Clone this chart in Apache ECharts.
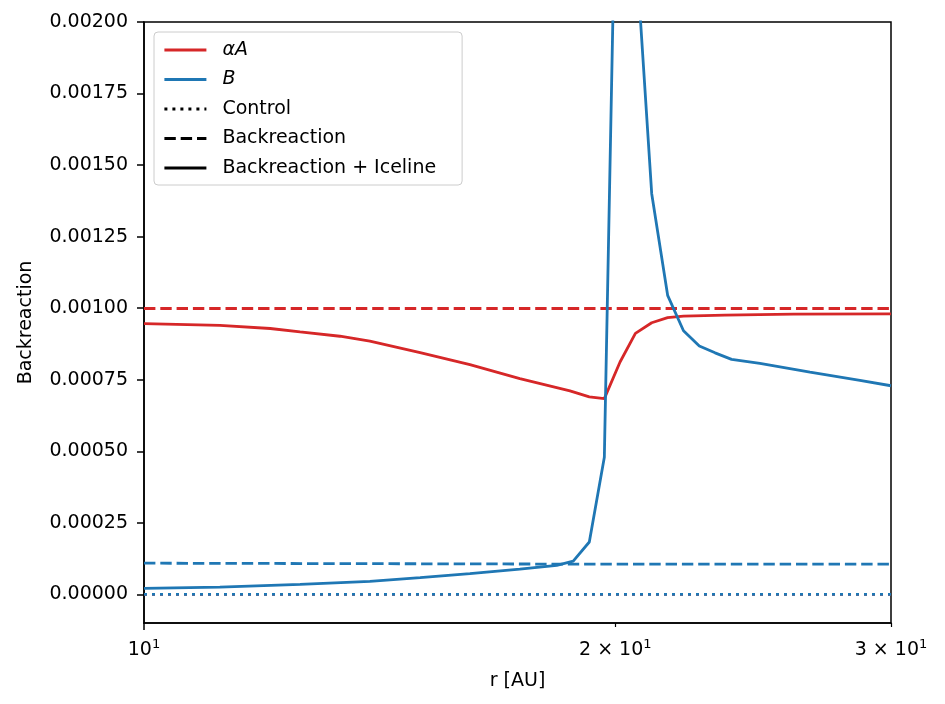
<!DOCTYPE html>
<html><head><meta charset="utf-8">
<script src="https://cdn.jsdelivr.net/npm/echarts@6/dist/echarts.min.js"></script>
<style>html,body{margin:0;padding:0;background:#fff}#c{width:945px;height:704px}</style>
</head><body><div id="c"></div>
<script>
// ---- data ----
const rControl = [10, 30];
const alphaAControl = [0, 0];
const bControl = [0, 0];

const rAlphaABack = [10, 30];
const alphaABack = [0.000999, 0.000999];
const rBBack = [10, 18, 30];
const bBack = [0.000109, 0.000106, 0.000106];

const rAlphaAIce = [10, 11.18, 12.04, 12.58, 13.34, 13.94, 15.01, 16.15, 17.38, 18.71, 19.25, 19.68, 20.14, 20.6, 21.1, 21.6, 22.11, 23.5, 26, 30];
const alphaAIce = [0.000946, 0.000940, 0.000929, 0.000917, 0.000902, 0.000885, 0.000845, 0.000803, 0.000754, 0.000711, 0.000690, 0.000684, 0.000812, 0.000912, 0.000949, 0.000967, 0.000972, 0.000976, 0.000979, 0.000980];

const rBIce = [10, 11.18, 12.58, 13.94, 15.01, 16.15, 17.38, 18.35, 18.8, 19.25, 19.68, 20.14, 20.6, 21.1, 21.6, 22.11, 22.63, 23.16, 23.73, 24.74, 26.63, 28.66, 30];
const bIce = [0.000021, 0.0000256, 0.000035, 0.0000455, 0.0000583, 0.0000723, 0.0000885, 0.0001014, 0.0001165, 0.000183, 0.000479, 0.0033, 0.00228, 0.0014, 0.001045, 0.000921, 0.000868, 0.000844, 0.000821, 0.000807, 0.000777, 0.000748, 0.000729];

const xTicks = [10, 20, 30];
const xTickLabels = {10: '{b|10}{s|1}', 20: '{b|2 × 10}{s|1}', 30: '{b|3 × 10}{s|1}'};
const yTicks = [0, 0.00025, 0.0005, 0.00075, 0.001, 0.00125, 0.0015, 0.00175, 0.002];
const legendNames = ['αA', 'B', 'Control', 'Backreaction', 'Backreaction + Iceline'];

// ---- styling ----
const RED = '#d62728', BLUE = '#1f77b4';
const FONT = 'DejaVu Sans';
const FS = 19;
const DASH = [11.4, 4.9], DOT = [3, 5];
const LW = 2.8;

const pairs = (xs, ys) => xs.map((x, i) => [x, ys[i]]);
function line(name, xs, ys, color, type) {
  return {
    name, type: 'line', xAxisIndex: 0, yAxisIndex: 0,
    data: pairs(xs, ys), showSymbol: false, symbol: 'none', color,
    lineStyle: {color, width: LW, type, cap: 'butt'}, animation: false, silent: true
  };
}
function dummy(name, color, type) {
  return {name, type: 'line', data: [], symbol: 'none', color,
    lineStyle: {color, width: LW, type}, itemStyle: {opacity: 0}, animation: false};
}

const chart = echarts.init(document.getElementById('c'), null, {renderer: 'canvas'});
chart.setOption({
  backgroundColor: '#fff',
  animation: false,
  textStyle: {fontFamily: FONT, color: '#000'},
  grid: {left: 144, right: 54, top: 22, bottom: 81, show: true, borderColor: '#000', borderWidth: 1.5, containLabel: false},
  xAxis: [{
    type: 'log', logBase: 10, min: 10, max: 30,
    name: 'r [AU]', nameLocation: 'middle', nameGap: 49,
    nameTextStyle: {fontFamily: FONT, fontSize: FS, color: '#000'},
    axisLine: {show: true, onZero: false, lineStyle: {color: '#000', width: 1.5}},
    axisTick: {show: true, customValues: [10], length: 7, lineStyle: {color: '#000', width: 1.5}},
    axisLabel: {show: true, customValues: xTicks, margin: 15, color: '#000', fontFamily: FONT,
      formatter: v => xTickLabels[Math.round(v)] || '',
      rich: {b: {fontSize: FS, fontFamily: FONT, color: '#000', lineHeight: 24},
             s: {fontSize: 13, fontFamily: FONT, color: '#000', verticalAlign: 'top', lineHeight: 24, padding: [0, 0, 9, 0]}}},
    splitLine: {show: false}, minorTick: {show: false}
  }, {
    type: 'log', logBase: 10, min: 10, max: 30, position: 'bottom', gridIndex: 0,
    axisLine: {show: false, onZero: false},
    axisTick: {show: true, customValues: [20, 30], length: 4, lineStyle: {color: '#000', width: 1.2}},
    axisLabel: {show: false}, splitLine: {show: false}
  }],
  yAxis: {
    type: 'value', min: -0.0001, max: 0.002,
    name: 'Backreaction', nameLocation: 'middle', nameGap: 108,
    nameTextStyle: {fontFamily: FONT, fontSize: FS, color: '#000'},
    axisLine: {show: true, onZero: false, lineStyle: {color: '#000', width: 1.5}},
    axisTick: {show: true, customValues: yTicks, length: 7, lineStyle: {color: '#000', width: 1.5}},
    axisLabel: {show: true, customValues: yTicks, margin: 16, fontSize: FS, fontFamily: FONT, color: '#000',
      formatter: v => v.toFixed(5)},
    splitLine: {show: false}
  },
  legend: {
    show: true, orient: 'vertical', left: 154, top: 32,
    data: [
      {name: 'αA', textStyle: {fontStyle: 'italic'}},
      {name: 'B', textStyle: {fontStyle: 'italic'}},
      'Control', 'Backreaction', 'Backreaction + Iceline'
    ],
    itemWidth: 42, itemHeight: 14, itemGap: 9.5,
    padding: [8, 26, 7, 9],
    backgroundColor: 'rgba(255,255,255,0.8)', borderColor: '#cccccc', borderWidth: 1, borderRadius: 4,
    textStyle: {fontFamily: FONT, fontSize: FS, color: '#000', lineHeight: 20, padding: [0, 0, 0, 11]},
    itemStyle: {opacity: 0, borderWidth: 0},
    lineStyle: {width: 2.8},
    selectedMode: false
  },
  series: [
    line('αA control', rControl, alphaAControl, RED, DOT),
    line('B control', rControl, bControl, BLUE, DOT),
    line('αA backreaction', rAlphaABack, alphaABack, RED, DASH),
    line('B backreaction', rBBack, bBack, BLUE, DASH),
    line('αA iceline', rAlphaAIce, alphaAIce, RED, 'solid'),
    line('B iceline', rBIce, bIce, BLUE, 'solid'),
    dummy(legendNames[0], RED, 'solid'),
    dummy(legendNames[1], BLUE, 'solid'),
    dummy(legendNames[2], '#000', DOT),
    dummy(legendNames[3], '#000', DASH),
    dummy(legendNames[4], '#000', 'solid')
  ]
});
</script>
</body></html>
